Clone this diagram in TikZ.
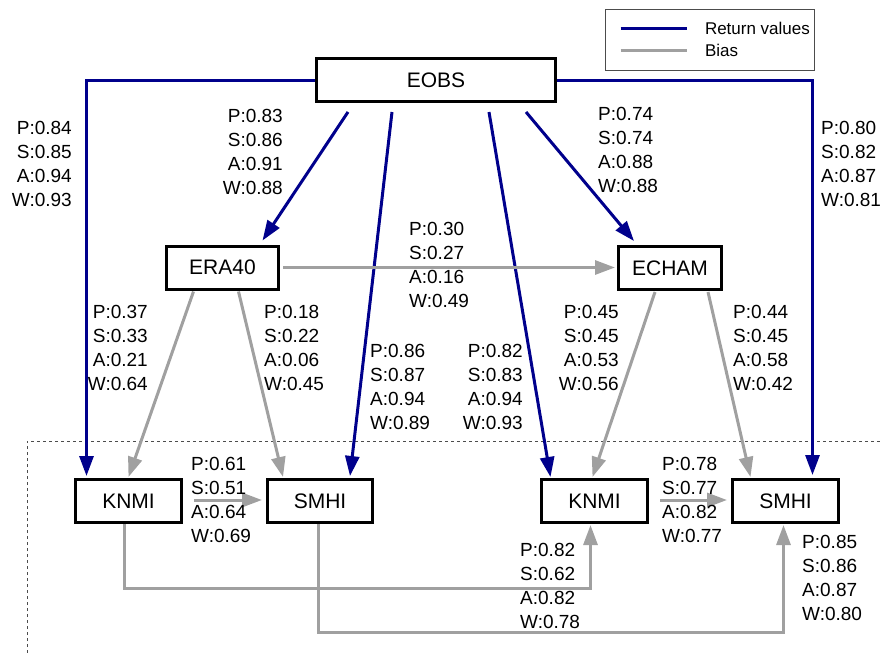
\documentclass[tikz,border=0pt]{standalone}
\usepackage{fontspec}
\setmainfont{Liberation Sans}
\usetikzlibrary{calc,arrows.meta}
\definecolor{rvblue}{RGB}{0,0,140}
\definecolor{biasgray}{RGB}{160,160,160}
\begin{document}
\begin{tikzpicture}[x=1pt,y=-1pt,
  box/.style={draw=black,line width=3pt,inner sep=0pt,minimum height=43pt,font=\fontsize{21}{25}\selectfont},
  lab/.style={inner sep=0pt,font=\fontsize{19}{23.8}\selectfont},
  labr/.style={lab,align=right,anchor=east},
  labl/.style={lab,align=left,anchor=west},
  rv/.style={draw=rvblue,line width=3pt,-{Triangle[length=20pt,width=14pt]}},
  bias/.style={draw=biasgray,line width=3pt,-{Triangle[length=20pt,width=14pt]}},
  frame/.style={draw=black!70,line width=0.8pt,dash pattern=on 3pt off 3pt}]
\useasboundingbox (0,0) rectangle (881,653);
% legend
\node[draw=black!70,line width=1pt,minimum width=209pt,minimum height=61pt,inner sep=0pt] (legend) at (709.5,39.5) {};
\coordinate (lg1) at ($(legend.west)+(16,-11.5)$);
\coordinate (lg2) at ($(legend.west)+(16,10.5)$);
\draw[rvblue,line width=3pt] (lg1) -- ++(66,0) node[right=17pt,inner sep=0pt,font=\fontsize{17}{19}\selectfont,black] (lgt1) {Return values};
\draw[biasgray,line width=3pt] (lg2) -- ++(66,0) node[right=17pt,inner sep=0pt,font=\fontsize{17}{19}\selectfont,black] (lgt2) {Bias};
% boxes
\node[box,minimum width=239pt] (EOBS) at (436,80) {EOBS};
\node[box,minimum width=112pt] (ERA) at (222.5,267.5) {ERA40};
\node[box,minimum width=103pt] (ECHAM) at (670,268) {ECHAM};
\node[box,minimum width=106pt] (KNMIl) at (128.5,501) {KNMI};
\node[box,minimum width=105pt] (SMHIl) at (320,501) {SMHI};
\node[box,minimum width=106pt] (KNMIr) at (594.5,501) {KNMI};
\node[box,minimum width=106pt] (SMHIr) at (785.5,501) {SMHI};
% dotted frame
\coordinate (fa) at (27,653);
\coordinate (fb) at (27,441);
\coordinate (fc) at (881,441);
\draw[frame] (fa) -- (fb) -- (fc);
% return value connectors
\draw[rv] (EOBS.west) -| ($(KNMIl.north)+(-42,-2)$);
\draw[rv] (EOBS.east) -| ($(SMHIr.north)+(27,-3)$);
\draw[rv] ($(EOBS.south)+(-88,9)$) -- ($(ERA.north)+(40,-4)$);
\draw[rv] ($(EOBS.south)+(-44,9)$) -- ($(SMHIl.north)+(30,-2)$);
\draw[rv] ($(EOBS.south)+(53,9)$) -- ($(KNMIr.north)+(-44,-1)$);
\draw[rv] ($(EOBS.south)+(90,9)$) -- ($(ECHAM.north)+(-36,-4)$);
% bias connectors
\draw[bias] ($(ERA.east)+(3,0)$) -- ($(ECHAM.west)+(-2,-0.5)$);
\draw[bias] ($(ERA.south)+(-29,1)$) -- ($(KNMIl.north)+(0,-1)$);
\draw[bias] ($(ERA.south)+(16,1)$) -- ($(SMHIl.north)+(-37,-1)$);
\draw[bias] ($(ECHAM.south)+(-15,1)$) -- ($(KNMIr.north)+(-2,-1)$);
\draw[bias] ($(ECHAM.south)+(38,1)$) -- ($(SMHIr.north)+(-35,-1)$);
\draw[bias] ($(KNMIl.east)+(11,-1)$) -- ($(SMHIl.west)+(-4,-1)$);
\draw[bias] ($(KNMIr.east)+(11,-1)$) -- ($(SMHIr.west)+(-4,-1)$);
\draw[bias] ($(KNMIl.south)+(-4,0)$) |- ($(KNMIr.south)+(-4,64)$) -- ($(KNMIr.south)+(-4,1)$);
\draw[bias] ($(SMHIl.south)+(-2,0)$) |- ($(SMHIr.south)+(-2,108)$) -- ($(SMHIr.south)+(-2,1)$);
% labels
\node[labr] (l1) at (72,164) {P:0.84\\S:0.85\\A:0.94\\W:0.93};
\node[labr] (l2) at (283,152) {P:0.83\\S:0.86\\A:0.91\\W:0.88};
\node[labl] (l3) at (598,150) {P:0.74\\S:0.74\\A:0.88\\W:0.88};
\node[labl] (l4) at (821,164) {P:0.80\\S:0.82\\A:0.87\\W:0.81};
\node[labl] (l5) at (409,265) {P:0.30\\S:0.27\\A:0.16\\W:0.49};
\node[labr] (l6) at (148,348) {P:0.37\\S:0.33\\A:0.21\\W:0.64};
\node[labl] (l7) at (264,348) {P:0.18\\S:0.22\\A:0.06\\W:0.45};
\node[labl] (l8) at (370,387) {P:0.86\\S:0.87\\A:0.94\\W:0.89};
\node[labr] (l9) at (523,387) {P:0.82\\S:0.83\\A:0.94\\W:0.93};
\node[labr] (l10) at (619,348) {P:0.45\\S:0.45\\A:0.53\\W:0.56};
\node[labl] (l11) at (733,348) {P:0.44\\S:0.45\\A:0.58\\W:0.42};
\node[labl] (l12) at (191,500) {P:0.61\\S:0.51\\A:0.64\\W:0.69};
\node[labl] (l13) at (662,500) {P:0.78\\S:0.77\\A:0.82\\W:0.77};
\node[labl] (l14) at (520,586) {P:0.82\\S:0.62\\A:0.82\\W:0.78};
\node[labl] (l15) at (802,578) {P:0.85\\S:0.86\\A:0.87\\W:0.80};
\end{tikzpicture}
\end{document}
